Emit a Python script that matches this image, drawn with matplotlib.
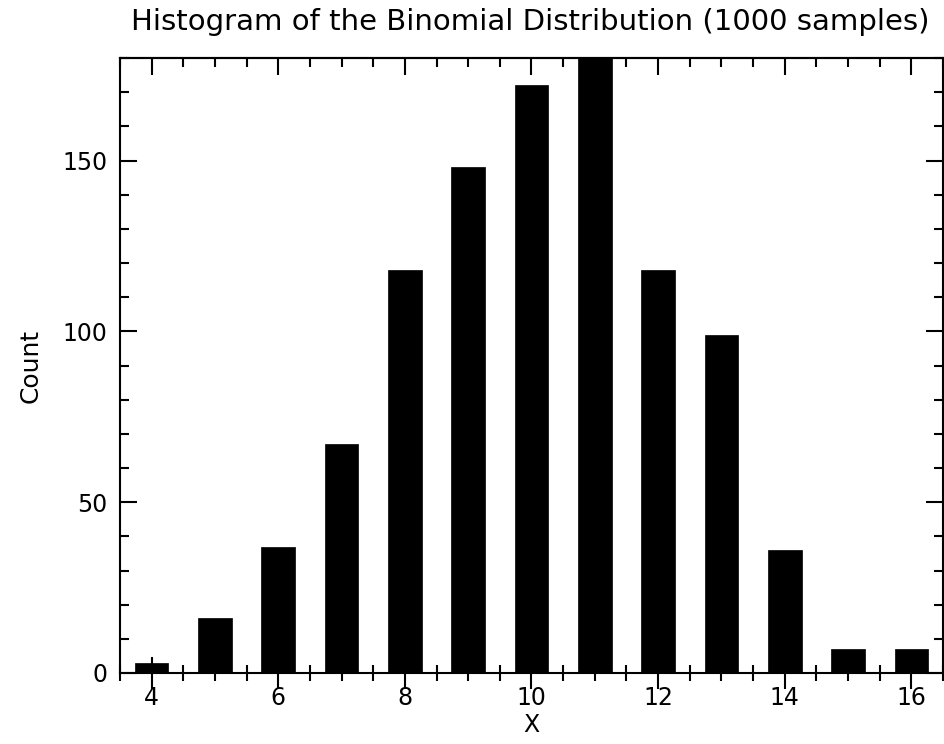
import matplotlib
matplotlib.use("Agg")
import matplotlib.pyplot as plt
from matplotlib.ticker import MultipleLocator

# histogram counts (bar at 11 runs past the top)
x_values = [4, 5, 6, 7, 8, 9, 10, 11, 12, 13, 14, 15, 16]
counts = [3, 16, 37, 67, 118, 148, 172, 182, 118, 99, 36, 7, 7]
x_ticks = [4, 6, 8, 10, 12, 14, 16]
y_ticks = [0, 50, 100, 150]

title = "Histogram of the Binomial Distribution (1000 samples)"
x_label = "X"
y_label = "Count"

plt.rcParams['font.family'] = ['DejaVu Sans']

fig = plt.figure(figsize=(9.45, 7.44), dpi=100)
ax = fig.add_axes([120 / 945, 71 / 744, 823 / 945, 615 / 744])

ax.bar(x_values, counts, width=0.53, color='black', edgecolor='black', linewidth=0.5)

ax.set_xlim(3.5, 16.5)
ax.set_ylim(0, 180)

for s in ax.spines.values():
    s.set_linewidth(1.5)

# x axis: ticks crossing the bottom line
ax.set_xticks(x_ticks)
ax.xaxis.set_minor_locator(MultipleLocator(0.5))
ax.tick_params(axis='x', which='major', direction='inout', length=23, width=1.5,
               labelsize=17, pad=-2)
ax.tick_params(axis='x', which='minor', direction='inout', length=11, width=1.5)

# top axis: inward ticks only
top = ax.secondary_xaxis('top')
top.set_xticks(x_ticks)
top.xaxis.set_minor_locator(MultipleLocator(0.5))
top.tick_params(which='major', direction='in', length=12, width=1.5, labeltop=False)
top.tick_params(which='minor', direction='in', length=6.5, width=1.5)
top.spines['top'].set_linewidth(1.5)

# y axis: inward ticks on both sides
ax.set_yticks(y_ticks)
ax.yaxis.set_minor_locator(MultipleLocator(10))
ax.tick_params(axis='y', which='both', direction='in', left=True, right=True, width=1.5)
ax.tick_params(axis='y', which='major', length=12, labelsize=17, pad=9)
ax.tick_params(axis='y', which='minor', length=6.5)

ax.set_xlabel(x_label, fontsize=17, labelpad=2)
ax.set_ylabel(y_label, fontsize=18, labelpad=14)
fig.text(0.5 + 120 / 945 / 2 - 0.002, 1 - 22 / 744, title, fontsize=21,
         ha='center', va='center')

fig.savefig("out.png", dpi=100)
